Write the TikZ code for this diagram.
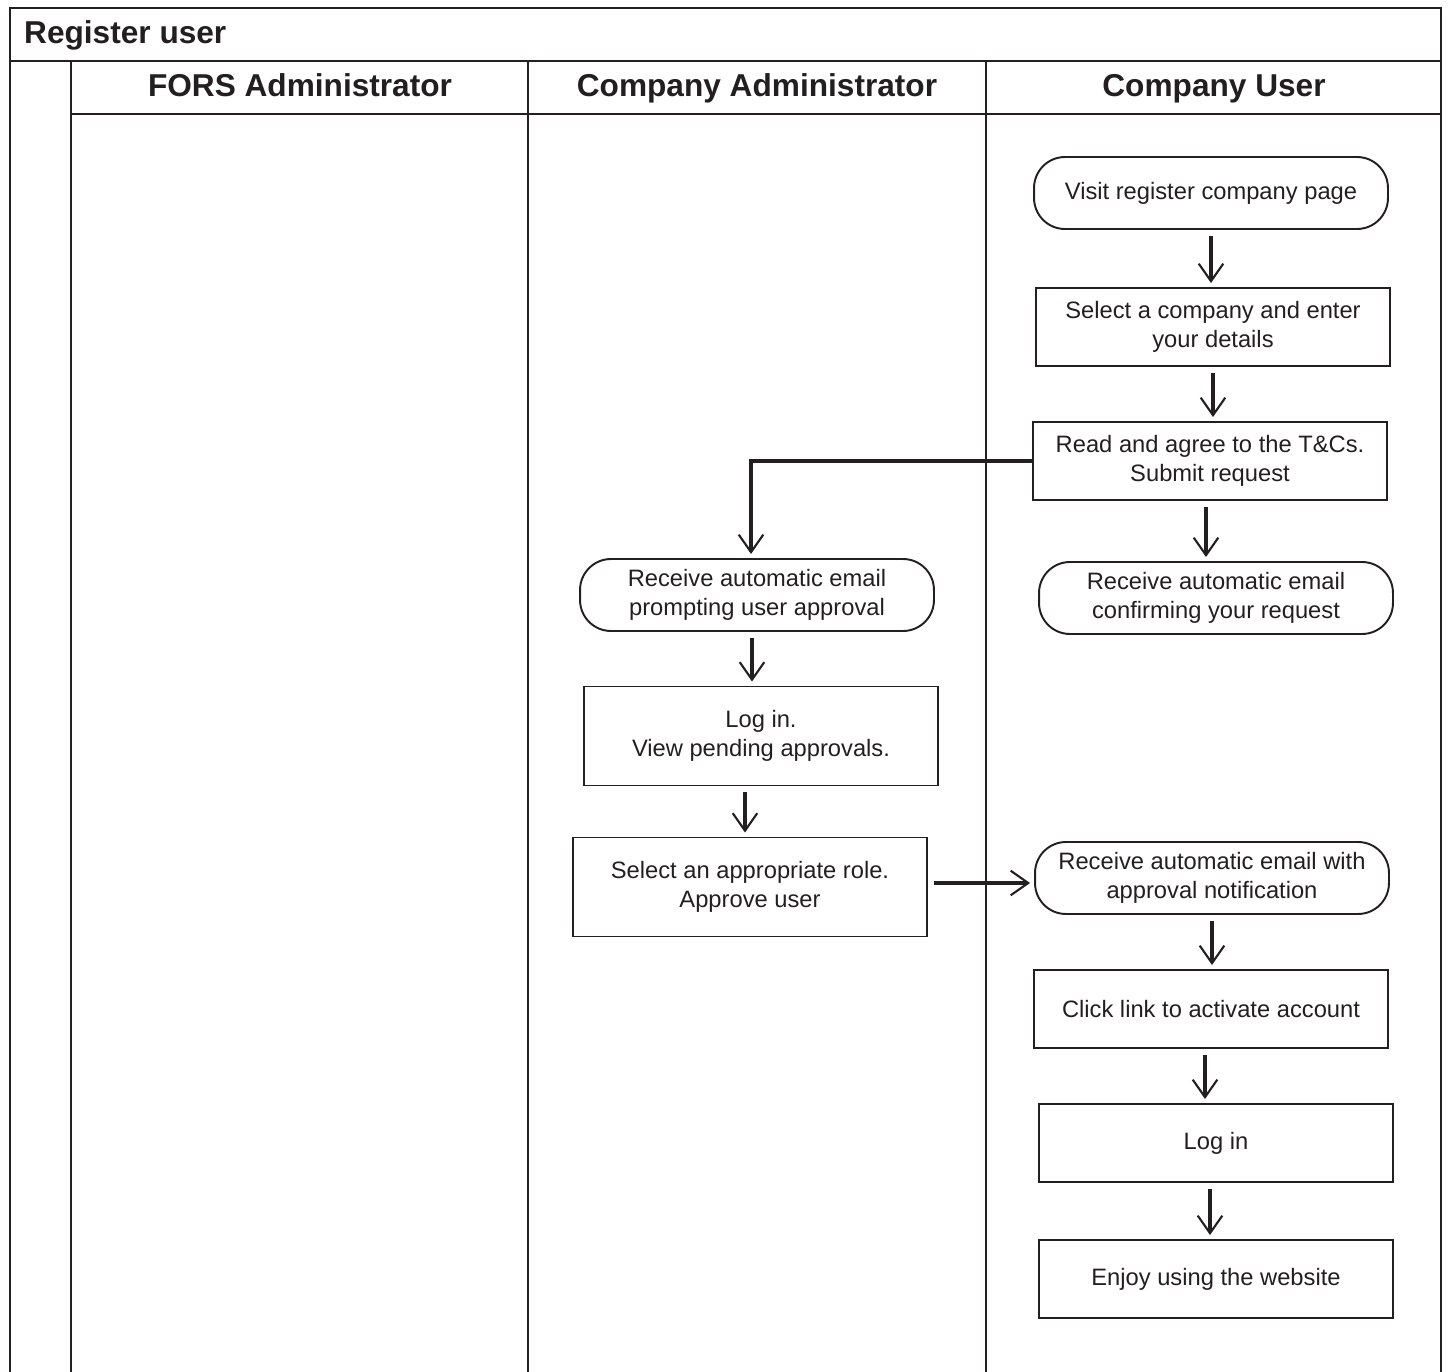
\documentclass[tikz,border=0pt]{standalone}
\usepackage{fontspec}
\setmainfont{Liberation Sans}
\usetikzlibrary{arrows.meta}
\definecolor{ink}{HTML}{231F20}

\begin{document}
\begin{tikzpicture}[x=0.02cm,y=-0.02cm,
        lane/.style={draw=ink, line width=1.1pt},
        header/.style={text=ink, anchor=base, font=\fontsize{18}{21}\selectfont\bfseries},
        stepbox/.style={draw=ink, text=ink, line width=1.1pt, minimum width=7.08cm,
            minimum height=1.56cm, align=center, inner sep=2pt,
            font=\fontsize{13.5}{16.5}\selectfont},
        roundbox/.style={stepbox, rounded corners=0.62cm, minimum height=1.44cm},
        flow/.style={draw=ink, line width=2.5pt,
            -{Straight Barb[length=10pt, width=14pt, line width=1.2pt]},
            shorten <=0.12cm, shorten >=0.08cm}]
        \useasboundingbox (0,0) rectangle (1451,1372);

        % swimlane frame
        \draw[lane] (10,1372) -- (10,8) -- (1441,8) -- (1441,1372);
        \draw[lane] (10,61) -- (1441,61);
        \draw[lane] (71,114) -- (1441,114);
        \foreach \x in {71,528,986}
            \draw[lane] (\x,61) -- (\x,1372);

        \node[header, anchor=base west] (title) at (18,44) {Register user};
        \node[header] (fors) at (300,97) {FORS Administrator};
        \node[header] (cadmin) at (757,97) {Company Administrator};
        \node[header] (cuser) at (1214,97) {Company User};

        % company user lane
        \node[roundbox] (visit) at (1211,193) {Visit register company page};
        \node[stepbox] (select) at (1213,327) {Select a company and enter\\your details};
        \node[stepbox] (read) at (1210,461) {Read and agree to the T\&Cs.\\Submit request};
        \node[roundbox] (confirm) at (1216,598) {Receive automatic email\\confirming your request};
        \node[roundbox] (approved) at (1212,878) {Receive automatic email with\\approval notification};
        \node[stepbox] (activate) at (1211,1009) {Click link to activate account};
        \node[stepbox] (login) at (1216,1143) {Log in};
        \node[stepbox] (enjoy) at (1216,1279) {Enjoy using the website};

        % company administrator lane
        \node[roundbox] (prompt) at (757,595) {Receive automatic email\\prompting user approval};
        \node[stepbox, minimum height=1.98cm] (pending) at (761,736) {Log in.\\View pending approvals.};
        \node[stepbox, minimum height=1.98cm] (role) at (750,887) {Select an appropriate role.\\Approve user};

        \draw[flow] (visit.south) -- (visit.south |- select.north);
        \draw[flow] (select.south) -- (select.south |- read.north);
        \draw[flow] ([xshift=-0.08cm]read.south) -- ([xshift=-0.08cm]read.south |- confirm.north);
        \draw[flow, shorten <=0pt] (read.west) -| ([xshift=-0.12cm]prompt.north);
        \draw[flow] ([xshift=-0.1cm]prompt.south) -- ([xshift=-0.1cm]prompt.south |- pending.north);
        \draw[flow] ([xshift=-0.32cm]pending.south) -- ([xshift=-0.32cm]pending.south |- role.north);
        \draw[flow] ([yshift=0.08cm]role.east) -- ([yshift=0.08cm]role.east -| approved.west);
        \draw[flow] (approved.south) -- (approved.south |- activate.north);
        \draw[flow] ([xshift=-0.12cm]activate.south) -- ([xshift=-0.12cm]activate.south |- login.north);
        \draw[flow] ([xshift=-0.12cm]login.south) -- ([xshift=-0.12cm]login.south |- enjoy.north);
    \end{tikzpicture}
\end{document}
